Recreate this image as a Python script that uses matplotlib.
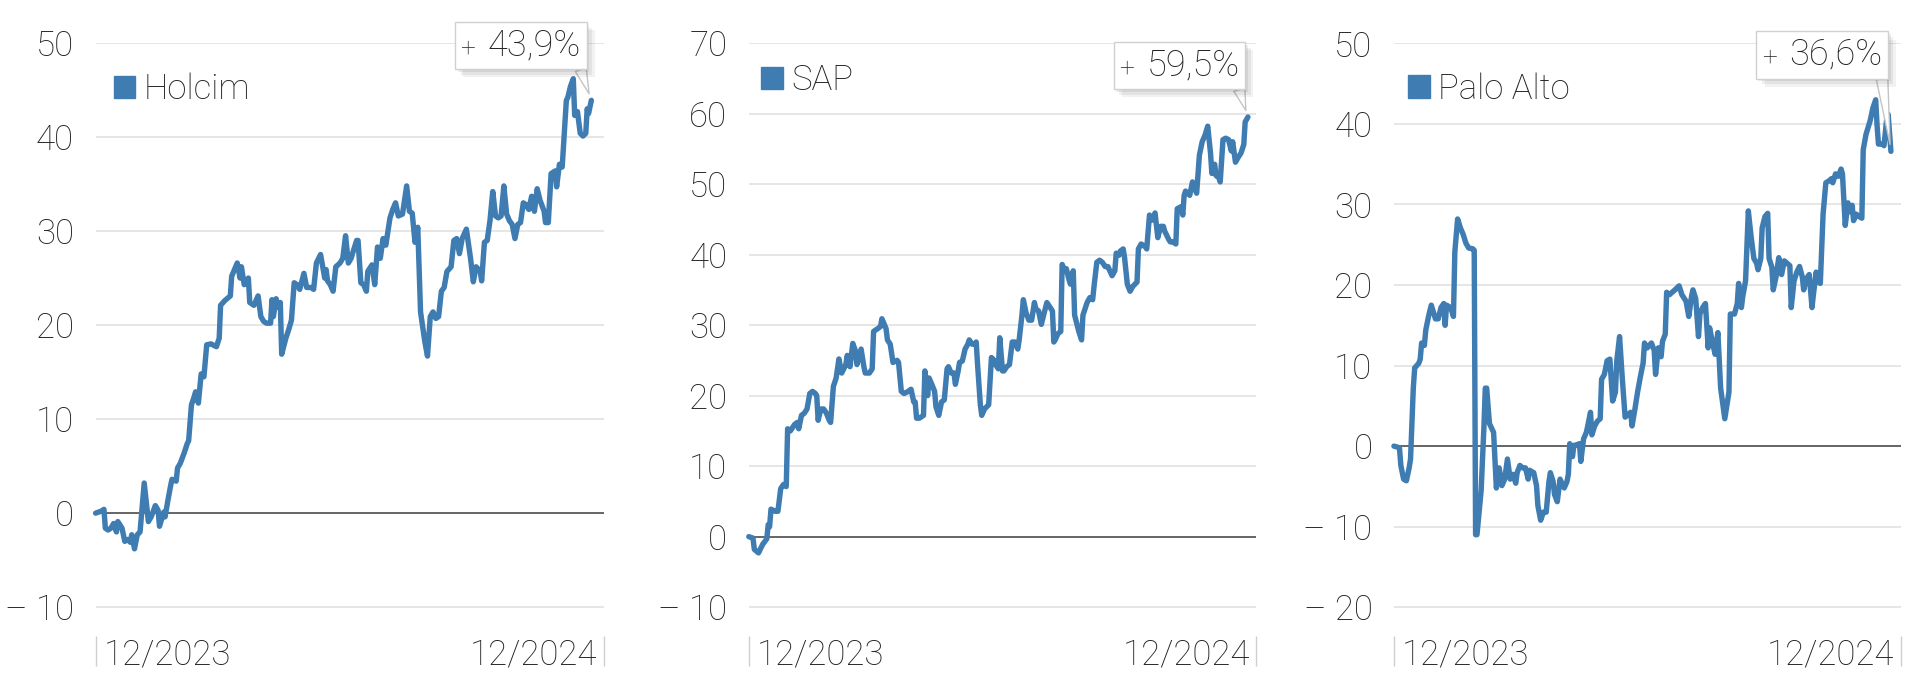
import matplotlib
matplotlib.use('Agg')
from matplotlib import pyplot as plt
from matplotlib.patches import Patch
from matplotlib.offsetbox import AnnotationBbox, HPacker, TextArea
import matplotlib.patheffects as pe

plt.rcParams['font.family'] = ['Roboto', 'DejaVu Sans']
plt.rcParams['font.weight'] = 'light'

BLUE = '#3f7cb1'
TXT = '#222222'

# days since start of the period, performance in %
holcim_t = [0, 4, 6, 7, 9, 11, 13, 15, 16, 19, 21, 23, 25, 26, 28, 30, 32, 35, 38, 40,
            43, 45, 46, 49, 50, 52, 54, 55, 58, 59, 61, 64, 66, 67, 69, 71, 72, 74, 76, 78,
            80, 83, 87, 89, 90, 93, 97, 98, 102, 104, 105, 107, 110, 111, 114, 117, 119, 121, 123, 126,
            127, 128, 130, 131, 133, 134, 137, 139, 141, 143, 145, 147, 150, 152, 155, 157, 159, 162, 165, 166,
            167, 169, 171, 173, 176, 178, 180, 182, 184, 185, 188, 189, 191, 193, 195, 196, 199, 201, 203, 205,
            207, 209, 212, 214, 216, 218, 221, 222, 224, 226, 228, 230, 232, 234, 237, 239, 241, 243, 245, 247,
            249, 251, 253, 256, 258, 260, 262, 264, 267, 270, 272, 274, 277, 278, 280, 282, 284, 286, 288, 290,
            292, 294, 296, 298, 300, 302, 304, 306, 308, 310, 312, 314, 316, 318, 320, 323, 324, 326, 328, 331,
            332, 334, 336, 339, 340, 342, 344, 345, 347, 349, 351, 353, 354, 355, 357]
holcim_v = [0, 0.2, 0.4, -1.6, -1.8, -1.6, -1.1, -2.0, -0.9, -1.6, -3.0, -2.8, -3.1, -2.3, -3.8, -2.3, -2.0, 3.2, -0.9, -0.4,
            0.8, 0.3, -1.4, 0.1, -0.4, 1.3, 2.9, 3.6, 3.4, 4.8, 5.3, 6.5, 7.4, 7.7, 11.5, 12.4, 12.9, 11.7, 14.8, 14.5,
            17.9, 18.0, 17.7, 18.6, 22.1, 22.6, 23.1, 25.2, 26.6, 25.0, 26.2, 24.3, 25.0, 22.4, 22.1, 23.1, 20.9, 20.4, 20.2, 20.2,
            22.7, 20.9, 22.8, 21.9, 22.4, 16.9, 18.6, 19.5, 20.5, 24.5, 24.3, 23.8, 25.5, 24.0, 24.0, 23.8, 26.6, 27.5, 25.0, 25.9,
            24.7, 24.3, 23.6, 26.2, 26.6, 27.1, 29.5, 26.6, 27.1, 27.6, 29.0, 29.0, 24.5, 24.3, 23.6, 25.7, 26.4, 24.3, 28.3, 27.1,
            29.2, 28.5, 31.4, 32.3, 33.0, 31.6, 31.8, 32.8, 34.8, 32.1, 31.9, 28.8, 30.4, 21.4, 18.3, 16.7, 20.9, 21.4, 20.7, 20.9,
            23.6, 24.0, 25.7, 26.2, 29.0, 29.2, 27.6, 29.2, 30.2, 27.1, 24.6, 26.2, 25.7, 24.7, 28.8, 29.0, 31.1, 34.2, 31.6, 31.4,
            31.6, 34.8, 31.8, 31.1, 30.7, 29.2, 30.7, 30.9, 33.0, 32.8, 32.3, 33.7, 32.1, 34.5, 33.3, 32.1, 30.9, 30.9, 36.1, 36.4,
            34.7, 37.1, 36.8, 43.9, 44.2, 45.4, 46.2, 42.3, 42.7, 40.4, 40.1, 40.4, 43.0, 42.5, 43.9]

sap_t = [0, 3, 4, 7, 10, 13, 14, 15, 16, 19, 21, 23, 25, 27, 28, 30, 33, 35, 36, 38,
         40, 42, 44, 46, 48, 49, 50, 52, 54, 56, 58, 59, 61, 63, 65, 67, 70, 71, 73, 75,
         77, 78, 81, 83, 84, 87, 89, 90, 93, 95, 96, 99, 100, 102, 104, 107, 108, 110, 112, 115,
         117, 119, 120, 121, 123, 126, 127, 129, 130, 132, 134, 135, 137, 139, 141, 143, 144, 146, 148, 149,
         151, 152, 154, 156, 158, 159, 161, 163, 164, 165, 167, 168, 170, 173, 175, 177, 178, 180, 181, 183,
         184, 186, 188, 190, 192, 194, 195, 197, 198, 200, 202, 204, 206, 207, 209, 211, 213, 215, 217, 219,
         220, 221, 223, 225, 226, 228, 229, 231, 232, 234, 235, 238, 240, 241, 244, 246, 248, 249, 251, 253,
         255, 257, 259, 262, 264, 265, 267, 268, 270, 271, 273, 275, 277, 280, 281, 283, 286, 287, 289, 290,
         291, 293, 295, 297, 299, 300, 303, 304, 306, 308, 309, 312, 313, 314, 315, 318, 320, 321, 323, 325,
         327, 329, 331, 333, 334, 336, 337, 339, 340, 342, 344, 346, 348, 349, 351, 353, 355, 357, 358, 360]
sap_v = [0, -0.2, -1.8, -2.3, -1.1, -0.3, 1.7, 1.4, 3.9, 3.6, 3.6, 6.8, 7.4, 7.1, 15.3, 15.0, 15.9, 16.2, 15.3, 17.2,
         17.5, 18.1, 20.3, 20.6, 20.3, 20.0, 16.5, 18.1, 18.1, 17.5, 16.5, 16.2, 21.3, 22.5, 25.2, 23.2, 24.4, 25.7, 24.1, 27.4,
         26.3, 24.4, 26.6, 24.1, 23.2, 23.2, 23.8, 29.1, 29.5, 29.8, 30.9, 29.5, 27.9, 27.3, 24.7, 25.0, 24.7, 20.6, 20.3, 20.6,
         20.9, 19.1, 19.1, 16.8, 16.8, 17.2, 23.5, 20.0, 22.5, 21.6, 20.6, 18.4, 17.2, 19.1, 19.4, 23.8, 24.1, 23.2, 23.2, 21.6,
         23.5, 24.7, 24.9, 26.6, 27.3, 27.9, 27.3, 27.3, 27.6, 24.4, 18.7, 17.2, 18.1, 18.7, 25.4, 25.0, 24.4, 23.8, 28.2, 23.5,
         23.5, 24.1, 24.4, 27.6, 27.6, 26.6, 27.9, 31.4, 33.6, 31.7, 30.7, 30.7, 33.2, 32.3, 32.0, 30.1, 31.7, 33.2, 32.6, 32.0,
         27.6, 27.9, 28.8, 29.1, 38.6, 37.7, 38.0, 36.4, 35.8, 37.7, 31.4, 29.1, 27.9, 31.4, 33.2, 33.9, 33.6, 35.5, 38.9, 39.2,
         38.9, 38.3, 38.3, 37.0, 37.7, 40.2, 39.9, 40.5, 40.8, 39.6, 35.8, 34.8, 35.5, 36.1, 40.8, 41.5, 41.1, 40.8, 45.6, 45.2,
         44.9, 45.9, 42.4, 44.0, 44.0, 43.3, 42.1, 41.8, 41.8, 41.5, 46.5, 46.8, 45.6, 48.4, 49.0, 48.4, 50.3, 49.7, 48.7, 54.1,
         56.0, 56.9, 58.2, 54.4, 51.5, 52.8, 51.2, 50.9, 50.3, 56.3, 56.5, 56.3, 54.7, 56.0, 53.1, 53.8, 54.4, 55.6, 58.8, 59.5]

palo_t = [0, 4, 5, 7, 9, 11, 12, 13, 14, 15, 18, 19, 20, 22, 23, 25, 27, 30, 32, 34,
          36, 37, 38, 41, 43, 44, 46, 48, 50, 52, 54, 57, 58, 59, 60, 63, 65, 66, 67, 69,
          72, 74, 76, 78, 80, 82, 84, 86, 88, 89, 91, 93, 95, 97, 98, 101, 103, 104, 106, 108,
          110, 112, 113, 115, 116, 118, 120, 123, 125, 126, 127, 129, 130, 131, 134, 135, 137, 139, 140, 142,
          143, 145, 147, 149, 150, 152, 154, 156, 158, 160, 161, 163, 165, 167, 169, 171, 172, 174, 176, 178,
          180, 181, 183, 186, 188, 189, 191, 193, 194, 196, 197, 199, 201, 203, 206, 208, 211, 213, 215, 216,
          218, 220, 221, 223, 225, 227, 228, 230, 232, 234, 236, 239, 242, 243, 246, 248, 249, 251, 252, 254,
          256, 258, 260, 262, 263, 265, 266, 268, 270, 271, 273, 274, 276, 278, 280, 282, 284, 286, 287, 289,
          291, 293, 295, 296, 298, 300, 302, 303, 305, 306, 308, 310, 312, 314, 316, 317, 319, 321, 323, 324,
          326, 328, 329, 331, 332, 334, 336, 338, 339, 341, 344, 346, 348, 349, 350, 353, 354, 356, 357, 359]
palo_v = [0, -0.2, -2.4, -4.1, -4.3, -2.7, -1.6, 2.8, 7.2, 9.7, 10.3, 10.8, 12.8, 12.5, 14.4, 16.1, 17.5, 15.8, 15.8, 17.2,
          17.7, 15.0, 17.5, 17.2, 16.1, 24.1, 28.2, 27.1, 26.3, 25.2, 24.6, 24.5, 24.3, -11.0, -11.0, -5.5, 2.3, 7.2, 7.2, 2.8,
          1.7, -5.2, -2.7, -4.9, -4.1, -1.6, -4.1, -3.5, -4.6, -3.3, -2.4, -2.7, -2.7, -4.1, -3.0, -3.3, -4.9, -7.4, -9.2, -8.2,
          -8.2, -4.4, -3.3, -4.4, -6.0, -6.9, -4.1, -5.2, -4.4, -3.5, 0.3, -1.3, 0.1, 0.1, 0.3, -1.9, 0.9, 1.7, 2.5, 4.2,
          1.4, 2.5, 3.1, 3.4, 8.3, 8.9, 10.6, 10.8, 5.6, 6.7, 10.6, 13.6, 8.3, 3.6, 3.9, 4.2, 2.5, 4.5, 6.7, 8.6,
          10.3, 12.8, 12.2, 12.8, 11.9, 8.9, 12.2, 11.1, 13.0, 13.9, 19.1, 18.8, 19.1, 19.4, 19.9, 18.8, 18.0, 16.1, 18.6, 19.4,
          18.3, 13.6, 16.4, 17.2, 17.7, 12.2, 14.7, 13.0, 11.4, 14.1, 7.2, 3.4, 6.7, 16.4, 16.4, 17.7, 20.2, 17.2, 18.6, 20.5,
          29.2, 26.0, 23.3, 22.7, 21.9, 23.3, 27.1, 28.5, 28.9, 23.3, 22.2, 19.4, 21.0, 23.4, 21.3, 23.0, 22.7, 22.4, 17.2, 20.5,
          21.6, 22.3, 21.0, 19.4, 20.8, 21.3, 17.2, 18.8, 21.6, 20.5, 20.2, 28.8, 32.7, 32.9, 33.2, 32.7, 33.8, 33.5, 34.4, 33.8,
          27.4, 30.2, 29.1, 29.9, 28.0, 28.8, 28.5, 28.3, 36.8, 38.7, 40.4, 42.0, 43.0, 39.8, 37.5, 37.5, 37.3, 40.7, 41.2, 36.6]

names = ['Holcim', 'SAP', 'Palo Alto']
series_t = [holcim_t, sap_t, palo_t]
series_v = [holcim_v, sap_v, palo_v]
y_ticks = [range(-10, 51, 10), range(-10, 71, 10), range(-20, 51, 10)]
y_lims = [(-16.26, 50), (-18.34, 70), (-27.3, 50.05)]
change_labels = ['43,9%', '59,5%', '36,6%']
x_labels = ['12/2023', '12/2024']
period_days = 366

# layout (figure fractions) and placements (axes fractions)
lefts = [0.0498, 0.3900, 0.7260]
widths = [0.2647, 0.2643, 0.2639]
legend_pos = [(0.036, 0.952), (0.024, 0.967), (0.028, 0.953)]
box_pos = [(0.966, 0.958), (0.978, 0.926), (0.975, 0.943)]

fig = plt.figure(figsize=(19.2, 6.98), dpi=100)

for i in range(3):
    ax = fig.add_axes([lefts[i], 0.04585, widths[i], 0.89255])
    t, v = series_t[i], series_v[i]

    ax.set_xlim(0, period_days)
    ax.set_ylim(*y_lims[i])
    for s in ax.spines.values():
        s.set_visible(False)

    ticks = list(y_ticks[i])
    ax.set_yticks(ticks)
    ax.set_yticklabels([f'\u2013 {abs(k)}' if k < 0 else str(k) for k in ticks])
    ax.tick_params(axis='y', length=0, pad=15.5, labelsize=25, labelcolor=TXT)
    ax.yaxis.grid(True, color='#e2e2e2', lw=1.2)
    ax.axhline(0, color='#444444', lw=1.1, zorder=2)

    ax.set_xticks([0, period_days])
    ax.set_xticklabels(['', ''])
    ax.tick_params(axis='x', direction='in', length=21.5, width=1, color='#cfcfcf')
    ax.set_axisbelow(True)

    trans = ax.get_xaxis_transform()
    ax.annotate(x_labels[0], (0, 0.003), xycoords=trans, xytext=(6, 0), textcoords='offset points',
                ha='left', va='baseline', fontsize=25, color=TXT)
    ax.annotate(x_labels[1], (period_days, 0.003), xycoords=trans, xytext=(-4.5, 0),
                textcoords='offset points', ha='right', va='baseline', fontsize=25, color=TXT)

    ax.plot(t, v, color=BLUE, lw=3.9, solid_joinstyle='round', solid_capstyle='round',
            clip_on=False, zorder=3)

    ax.legend(handles=[Patch(color=BLUE)], labels=[names[i]], loc='upper left',
              bbox_to_anchor=legend_pos[i], frameon=False, fontsize=25,
              handlelength=0.62, handleheight=0.62, handletextpad=0.25, borderpad=0,
              borderaxespad=0, labelcolor=TXT)

    content = HPacker(children=[TextArea('+', textprops=dict(fontsize=19, color=TXT)),
                                TextArea(change_labels[i], textprops=dict(fontsize=26, color=TXT))],
                      align='baseline', pad=4, sep=9)
    ab = AnnotationBbox(content, (t[-1], v[-1]), xybox=box_pos[i], xycoords='data',
                        boxcoords='axes fraction', box_alignment=(1, 0), pad=0,
                        bboxprops=dict(boxstyle='square,pad=0', fc='white', ec='#d0d0d0', lw=1),
                        arrowprops=dict(arrowstyle='wedge,tail_width=0.3,shrink_factor=0.5',
                                        fc='white', ec='#c4c4c4', lw=1, relpos=(0.955, 0.0),
                                        shrinkA=0, shrinkB=5, mutation_scale=20),
                        zorder=5)
    ab.patch.set_path_effects([
        pe.SimplePatchShadow(offset=(2, -2), shadow_rgbFace='#000000', alpha=0.07),
        pe.SimplePatchShadow(offset=(4, -4), shadow_rgbFace='#000000', alpha=0.06),
        pe.SimplePatchShadow(offset=(6, -6), shadow_rgbFace='#000000', alpha=0.05),
        pe.Normal()])
    ax.add_artist(ab)

fig.savefig('out.png', dpi=100, facecolor='white')
